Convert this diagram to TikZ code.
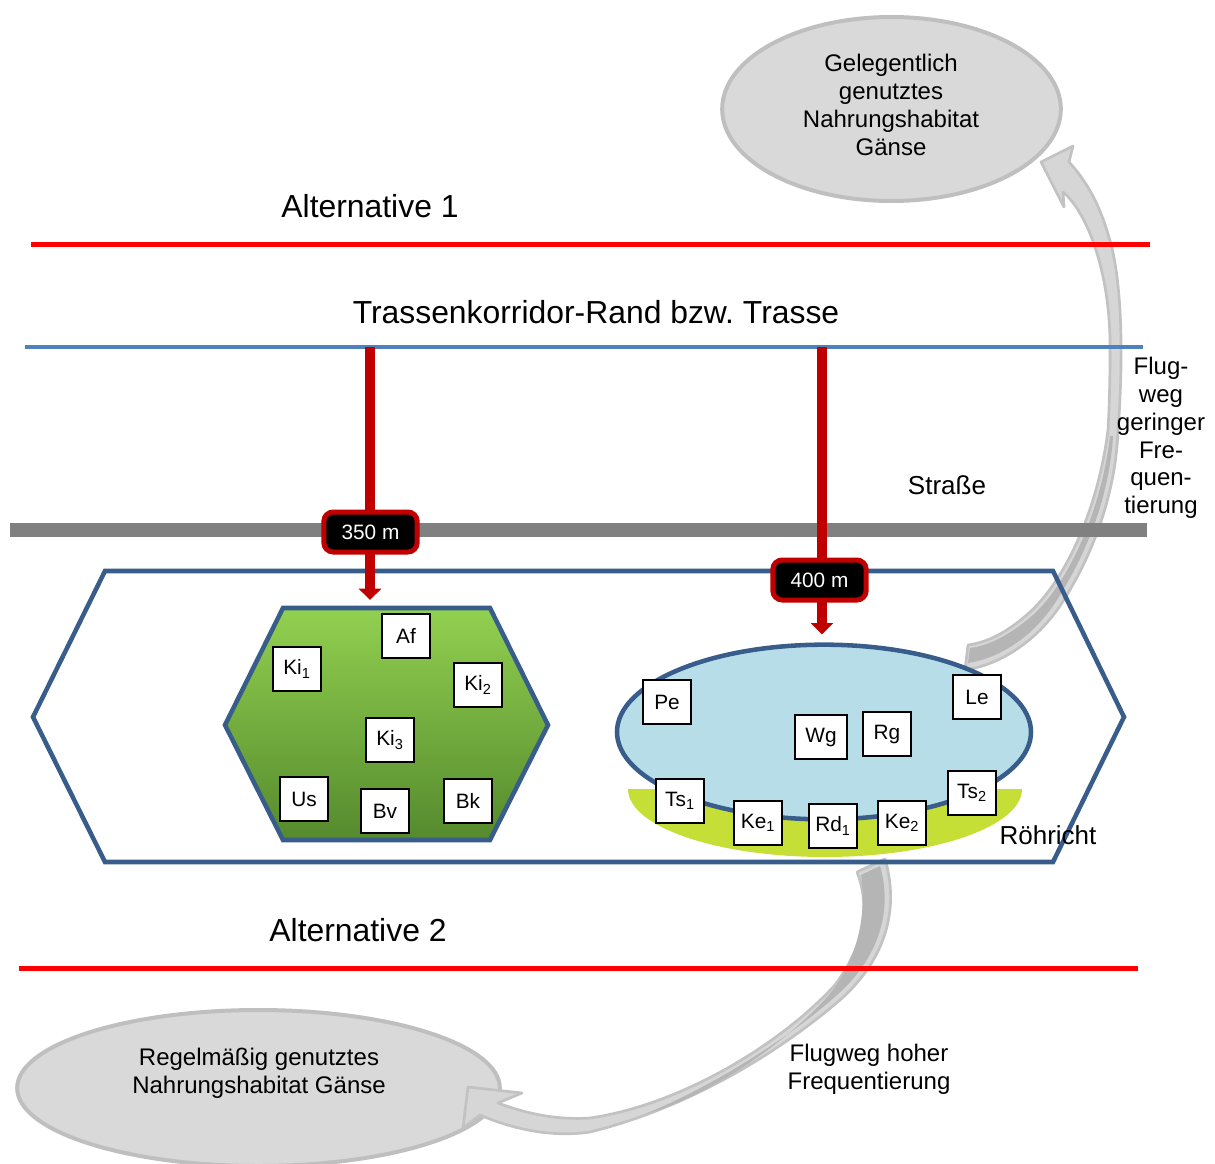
\documentclass[tikz,border=0pt]{standalone}
\usepackage{fontspec}
\setmainfont{Liberation Sans}
\usetikzlibrary{arrows.meta,shapes.geometric}

\definecolor{corridorred}{HTML}{FF0000}
\definecolor{routeblue}{HTML}{4F81BD}
\definecolor{roadgray}{HTML}{808080}
\definecolor{darkred}{HTML}{C00000}
\definecolor{frameblue}{HTML}{385D8A}
\definecolor{woodtop}{HTML}{92D050}
\definecolor{woodbottom}{HTML}{558A2D}
\definecolor{reed}{HTML}{C6DF36}
\definecolor{water}{HTML}{B7DEE8}
\definecolor{habitatfill}{HTML}{D9D9D9}
\definecolor{habitatline}{HTML}{BFBFBF}
\definecolor{flightlight}{HTML}{D6D6D6}
\definecolor{flightdark}{HTML}{B5B5B5}
\definecolor{flightline}{HTML}{C2C2C2}

\begin{document}
\begin{tikzpicture}[x=0.75pt, y=-0.75pt,
  bigtext/.style={font=\fontsize{23.9}{28}\selectfont, inner sep=0pt},
  midtext/.style={font=\fontsize{19.5}{23}\selectfont, inner sep=0pt},
  smalltext/.style={font=\fontsize{18}{20.8}\selectfont, align=center, inner sep=0pt},
  speciesbox/.style={draw=black, line width=0.8pt, fill=white, minimum width=36pt,
    minimum height=33pt, inner sep=0pt, font=\fontsize{15.6}{18}\selectfont},
  badge/.style={fill=black, draw=darkred, line width=3.75pt, rounded corners=7pt,
    text=white, minimum width=70pt, minimum height=30pt, inner sep=0pt,
    font=\fontsize{15.6}{18}\selectfont},
  distarrow/.style={draw=darkred, line width=7pt, -{Triangle[width=16.5pt, length=8.5pt]}},
  habitat/.style={ellipse, draw=habitatline, fill=habitatfill, line width=3pt, inner sep=0pt},
  flight/.style={fill=flightlight, draw=flightline, line width=2pt, line join=round},
  flightshade/.style={fill=flightdark},
  corridor/.style={draw=corridorred, line width=3.75pt},
  frame/.style={draw=frameblue, line width=3.4pt, line join=miter}
]
\useasboundingbox (0,0) rectangle (1215,1164);

% feeding habitats of the geese
\node[habitat, minimum width=254pt, minimum height=138pt] (occasional) at (891.5,109) {};
\node[smalltext] (occasionaltext) at (891,105) {Gelegentlich\\genutztes\\Nahrungshabitat\\Gänse};
\node[habitat, minimum width=362pt, minimum height=117pt] (regular) at (258.5,1088) {};
\node[smalltext] (regulartext) at (259,1073) {Regelmäßig genutztes\\Nahrungshabitat Gänse};

% flight path of low frequency (from the lake to the upper habitat)
\path[flight] (1041,162) -- (1064,207) -- (1063,192)
  .. controls (1090,215) and (1111,280) .. (1110,350)
  .. controls (1110,390) and (1109,410) .. (1108,430)
  .. controls (1098,510) and (1065,580) .. (1030,612)
  .. controls (1010,630) and (990,642) .. (968,645)
  -- (965,670)
  .. controls (1000,665) and (1040,640) .. (1065,598)
  .. controls (1095,550) and (1116,490) .. (1118,430)
  .. controls (1122,380) and (1124,300) .. (1112,248)
  .. controls (1102,210) and (1090,185) .. (1069,162)
  -- (1073,146) -- cycle;
\path[flightshade] (1110,436)
  .. controls (1101,512) and (1068,583) .. (1033,615)
  .. controls (1012,633) and (992,645) .. (970,648)
  -- (968,663)
  .. controls (1000,658) and (1036,636) .. (1060,595)
  .. controls (1090,547) and (1110,490) .. (1113,436) -- cycle;

% flight path of high frequency (from the reed belt to the lower habitat)
\path[flight] (468,1087) -- (522,1093) -- (498,1103)
  .. controls (530,1115) and (560,1120) .. (590,1118)
  .. controls (680,1105) and (780,1045) .. (835,985)
  .. controls (865,945) and (870,905) .. (857,872)
  -- (885,859)
  .. controls (900,910) and (885,960) .. (840,1000)
  .. controls (770,1060) and (680,1110) .. (590,1132)
  .. controls (550,1138) and (510,1128) .. (480,1115)
  -- (463,1128) -- cycle;
\path[flightshade] (861,875) -- (880,866)
  .. controls (893,910) and (879,958) .. (837,995)
  .. controls (780,1046) and (700,1092) .. (645,1114)
  .. controls (705,1098) and (790,1042) .. (833,990)
  .. controls (861,952) and (866,908) .. (861,875) -- cycle;

% corridor lines and road
\draw[corridor] (31,244) -- (1150,244);
\draw[draw=routeblue, line width=3.2pt] (25,347) -- (1143,347);
\draw[draw=roadgray, line width=10.5pt] (10,530) -- (1147,530);
\draw[corridor] (19,968) -- (1138,968);

% study area
\draw[frame] (105,571) -- (1053,571) -- (1124,717) -- (1053,862) -- (105,862) -- (33,717) -- cycle;

% woodland
\path[frame, top color=woodtop, bottom color=woodbottom]
  (283,608) -- (490,608) -- (548,725) -- (490,840) -- (283,840) -- (225,725) -- cycle;
\coordinate (woodtop) at (370,608);

% reed belt and lake
\begin{scope}
  \clip (600,789) rectangle (1050,875);
  \fill[reed] (825,789) ellipse [x radius=197, y radius=68];
\end{scope}
\node[ellipse, draw=frameblue, fill=water, line width=3.4pt, inner sep=0pt,
  minimum width=310.5pt, minimum height=131pt] (lake) at (824,732) {};

% distances from the route
\coordinate (route1) at (370,347);
\coordinate (route2) at (822,347);
\draw[distarrow] (route1) -- ([yshift=6pt]woodtop);
\draw[distarrow] (route2) -- ([yshift=6pt]lake.north -| route2);
\node[badge] (d350) at (370.5,532) {350 m};
\node[badge] (d400) at (819.5,580) {400 m};

% species in the woodland
\node[speciesbox] (af) at (406,636) {Af};
\node[speciesbox] (ki1) at (297,669) {Ki\textsubscript{1}};
\node[speciesbox] (ki2) at (478,685) {Ki\textsubscript{2}};
\node[speciesbox] (ki3) at (390,740) {Ki\textsubscript{3}};
\node[speciesbox] (us) at (304,799) {Us};
\node[speciesbox] (bv) at (385,811) {Bv};
\node[speciesbox] (bk) at (468,801) {Bk};

% species at the lake
\node[speciesbox] (pe) at (667,702) {Pe};
\node[speciesbox] (le) at (977,697) {Le};
\node[speciesbox, minimum width=39pt] (wg) at (821,737) {Wg};
\node[speciesbox] (rg) at (887,734) {Rg};
\node[speciesbox] (ts1) at (680,801) {Ts\textsubscript{1}};
\node[speciesbox] (ke1) at (758,823) {Ke\textsubscript{1}};
\node[speciesbox] (rd1) at (833,826) {Rd\textsubscript{1}};
\node[speciesbox] (ke2) at (902,823) {Ke\textsubscript{2}};
\node[speciesbox] (ts2) at (972,793) {Ts\textsubscript{2}};

% labels
\node[bigtext] (alt1) at (370,206) {Alternative 1};
\node[bigtext] (route) at (596,312) {Trassenkorridor-Rand bzw.\ Trasse};
\node[midtext] (road) at (947,485) {Straße};
\node[midtext] (reedlabel) at (1048,835) {Röhricht};
\node[bigtext] (alt2) at (358,930) {Alternative 2};
\node[smalltext] (highfreq) at (869,1069) {Flugweg hoher\\Frequentierung};
\node[smalltext] (lowfreq) at (1161,438) {Flug-\\weg\\geringer\\Fre-\\quen-\\tierung};
\end{tikzpicture}
\end{document}
